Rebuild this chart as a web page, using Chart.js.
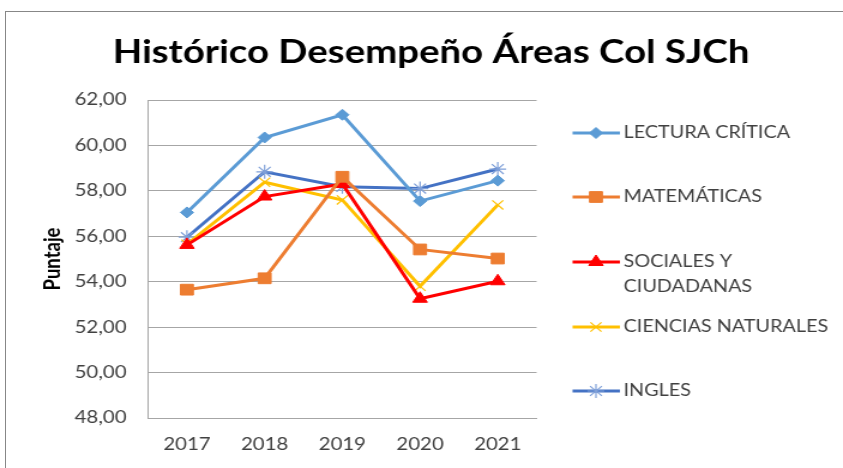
<!DOCTYPE html>
<html lang="es">
<head>
<meta charset="UTF-8">
<title>Histórico Desempeño Áreas Col SJCh</title>
<script src="https://cdn.jsdelivr.net/npm/chart.js"></script>
<style>
  html, body { margin: 0; padding: 0; background: #fff; }
  .wrap { position: relative; width: 843px; height: 468px; overflow: hidden; }
  .frame { position: absolute; left: 5px; top: 11px; width: 900px; height: 500px; border: 1px solid #878787; }
  /* the source picture is stretched sideways by about 1.2, so the canvas is too */
  canvas { position: absolute; left: 0; top: 0; transform: scaleX(1.1991); transform-origin: 0 0; }
</style>
</head>
<body>
<div class="wrap">
  <div class="frame"></div>
  <canvas id="chart" width="703" height="468"></canvas>
</div>
<script>
// data
const years = ['2017', '2018', '2019', '2020', '2021'];
const lectura = [57.05, 60.35, 61.35, 57.55, 58.45];
const matematicas = [53.65, 54.15, 58.62, 55.42, 55.02];
const sociales = [55.62, 57.75, 58.3, 53.25, 54.02];
const ciencias = [55.65, 58.38, 57.6, 53.8, 57.38];
const ingles = [55.96, 58.84, 58.18, 58.1, 58.96];
const chartTitle = 'Histórico Desempeño Áreas Col SJCh';

const font = 'Lato, Carlito, "Liberation Sans", sans-serif';
const textGray = '#404040';

// title + legend drawn on the canvas (title is centred on the whole picture,
// and one legend entry wraps on two lines)
const extras = {
  id: 'extras',
  afterDraw(chart) {
    const ctx = chart.ctx;
    ctx.save();
    ctx.fillStyle = '#000';
    ctx.font = 'bold 32px ' + font;
    ctx.textAlign = 'center';
    ctx.textBaseline = 'alphabetic';
    ctx.fillText(chartTitle, 359.5, 63);
    ctx.restore();

    const rows = [133, 197, 262, 327, 391];
    chart.data.datasets.forEach((ds, i) => {
      const y = rows[i];
      ctx.save();
      ctx.strokeStyle = ds.borderColor;
      ctx.lineWidth = 3;
      ctx.beginPath();
      ctx.moveTo(477.5, y);
      ctx.lineTo(517, y);
      ctx.stroke();
      ctx.fillStyle = ds.pointBackgroundColor;
      ctx.strokeStyle = ds.pointBorderColor;
      ctx.lineWidth = ds.pointBorderWidth;
      Chart.helpers.drawPoint(ctx, {
        pointStyle: ds.pointStyle,
        radius: ds.pointRadius,
        rotation: 0,
        borderWidth: ds.pointBorderWidth
      }, 497, y);
      ctx.fillStyle = textGray;
      ctx.font = '16.5px ' + font;
      ctx.textBaseline = 'middle';
      ctx.textAlign = 'left';
      const lines = Array.isArray(ds.label) ? ds.label : [ds.label];
      lines.forEach((t, k) => ctx.fillText(t, 520, y + k * 25));
      ctx.restore();
    });
  }
};

function series(label, data, color, style, radius, markColor, markWidth) {
  return {
    label: label,
    data: data,
    borderColor: color,
    borderWidth: 3,
    pointStyle: style,
    pointRadius: radius,
    pointHoverRadius: radius,
    pointBackgroundColor: markColor,
    pointBorderColor: markColor,
    pointBorderWidth: markWidth,
    tension: 0
  };
}

new Chart(document.getElementById('chart'), {
  type: 'line',
  data: {
    labels: years,
    datasets: [
      series('LECTURA CRÍTICA', lectura, '#5b9bd5', 'rectRot', 5.5, '#5b9bd5', 1),
      series('MATEMÁTICAS', matematicas, '#ed7d31', 'rect', 7.6, '#ed7d31', 1),
      series(['SOCIALES Y', 'CIUDADANAS'], sociales, '#ff0000', 'triangle', 7, '#ff0000', 1),
      series('CIENCIAS NATURALES', ciencias, '#ffc000', 'crossRot', 6.5, '#ffc000', 1.2),
      series('INGLES', ingles, '#4472c4', 'star', 7, '#7e9fd8', 1.2)
    ]
  },
  options: {
    responsive: false,
    animation: false,
    layout: { padding: { left: 0, right: 255.5, top: 100, bottom: 0 } },
    plugins: {
      legend: { display: false },
      tooltip: { enabled: false },
      title: { display: false }
    },
    scales: {
      x: {
        offset: true,
        grid: { display: false, drawTicks: false },
        border: { display: true, color: '#a6a6a6', width: 1 },
        ticks: { color: textGray, font: { family: font, size: 17 }, padding: 16, maxRotation: 0 },
        afterFit(scale) { scale.height = 50; }
      },
      y: {
        min: 48,
        max: 62,
        grid: { color: '#a6a6a6', lineWidth: 1, drawTicks: false },
        border: { display: true, color: '#a6a6a6', width: 1 },
        ticks: {
          stepSize: 2,
          color: textGray,
          font: { family: font, size: 17 },
          padding: 18,
          callback: v => v.toFixed(2).replace('.', ',')
        },
        title: {
          display: true,
          text: 'Puntaje',
          color: '#000',
          font: { family: font, size: 18.5, weight: 'bold' },
          padding: { top: 33, bottom: 0 }
        },
        afterFit(scale) { scale.width = 123.5; }
      }
    }
  },
  plugins: [extras]
});
</script>
</body>
</html>
